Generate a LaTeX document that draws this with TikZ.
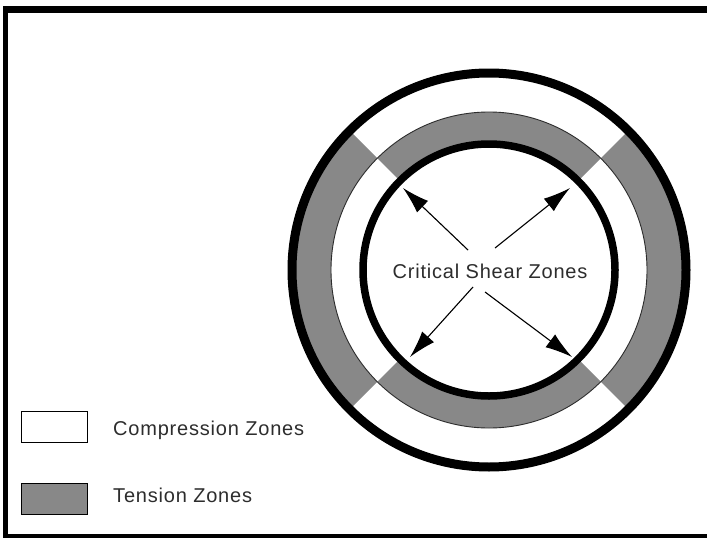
\documentclass[tikz,border=0pt]{standalone}
\usepackage{fontspec}
\setmainfont{Liberation Sans}
\newfontfamily\lblfont[LetterSpace=4]{Liberation Sans}
\usetikzlibrary{arrows.meta}
\definecolor{tens}{RGB}{136,136,136}
\definecolor{ink}{RGB}{45,45,45}
\begin{document}
\begin{tikzpicture}[x=1pt,y=-1pt,
  ring/.style={draw=black, circle, inner sep=0pt, outer sep=0pt},
  shear/.style={-{Latex[length=27pt,width=16pt]}, line width=1.1pt, draw=black, fill=black},
  txt/.style={font=\lblfont\fontsize{20}{24}\selectfont, text=ink, inner sep=0pt},
  legendbox/.style={draw=black, line width=1.5pt, inner sep=0pt, minimum width=66pt, minimum height=31pt, anchor=north west}]
\useasboundingbox (0,0) rectangle (707,538);
\fill[white] (0,0) rectangle (707,538);
% frame
\fill[black] (3,6) rectangle (707,13);
\fill[black] (3,6) rectangle (8,538);
\fill[black] (3,534) rectangle (707,538);
\coordinate (c) at (489,270);
% tension (grey) sectors
\begin{scope}[shift={(c)}]
 \fill[tens] (-45:197) arc[start angle=-45,end angle=45,radius=197] -- (45:158) arc[start angle=45,end angle=-45,radius=158] -- cycle;
 \fill[tens] (135:197) arc[start angle=135,end angle=225,radius=197] -- (225:158) arc[start angle=225,end angle=135,radius=158] -- cycle;
 \fill[tens] (45:158) arc[start angle=45,end angle=135,radius=158] -- (135:126) arc[start angle=135,end angle=45,radius=126] -- cycle;
 \fill[tens] (225:158) arc[start angle=225,end angle=315,radius=158] -- (315:126) arc[start angle=315,end angle=225,radius=126] -- cycle;
\end{scope}
% rings
\node[ring, draw=ink, line width=0.9pt, minimum size=316pt] (middle) at (c) {};
\node[ring, line width=9pt, minimum size=394pt] (outer) at (c) {};
\node[ring, line width=7.5pt, minimum size=252pt] (inner) at (c) {};
% arrows
\coordinate (t1) at (468,250); \coordinate (h1) at (403,188);
\coordinate (t2) at (495,248); \coordinate (h2) at (570,188);
\coordinate (t3) at (473,287); \coordinate (h3) at (410,357);
\coordinate (t4) at (485,292); \coordinate (h4) at (572,357);
\draw[shear] (t1) -- (h1);
\draw[shear] (t2) -- (h2);
\draw[shear] (t3) -- (h3);
\draw[shear] (t4) -- (h4);
\node[txt, anchor=base] (csz) at (490,278) {Critical Shear Zones};
% legend
\node[legendbox, fill=white] (comp) at (20.5,410.5) {};
\node[legendbox, fill=tens, line width=1pt] (tension) at (20.5,483) {};
\node[txt, anchor=base west] (complbl) at (113,435) {Compression Zones};
\node[txt, anchor=base west] (tenslbl) at (113,502) {Tension Zones};
\end{tikzpicture}
\end{document}
